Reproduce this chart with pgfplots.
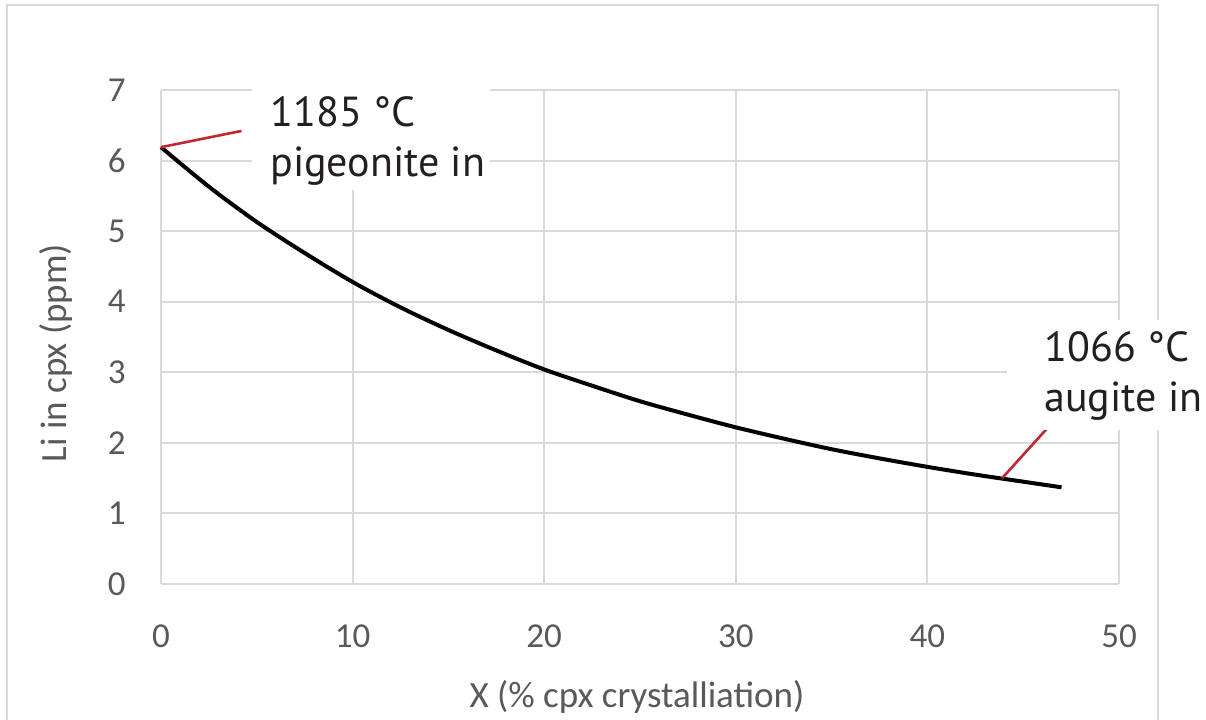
\documentclass[border=0pt]{standalone}
\usepackage{pgfplots}
\pgfplotsset{compat=1.18}
\usepackage{fontspec}
\setmainfont{Carlito}
\newfontfamily\annfont{PT Sans}
\definecolor{gridgray}{HTML}{D9D9D9}
\definecolor{framegray}{HTML}{D9D9D9}
\definecolor{labgray}{HTML}{595959}
\definecolor{anntext}{HTML}{231F20}
\definecolor{leader}{HTML}{C1272D}

\begin{document}
\begin{tikzpicture}
  \useasboundingbox (0,0) rectangle (603pt,359.5pt);
  % outer chart frame (bottom edge falls outside the picture)
  \draw[framegray, line width=0.8pt] (3.5pt,-3pt) -- (3.5pt,357pt) -- (579pt,357pt) -- (579pt,-3pt);
  \begin{axis}[at={(80.5pt,67.5pt)}, anchor=south west, scale only axis,
      width=479pt, height=247pt,
      xmin=0, xmax=50, ymin=0, ymax=7,
      xtick={0,10,...,50}, ytick={0,...,7},
      axis lines=left,
      x axis line style={draw=gridgray, line width=1.2pt, -},
      y axis line style={draw=none, -},
      major tick length=0pt,
      grid=major, major grid style={draw=gridgray, line width=1pt},
      /pgf/number format/assume math mode=true,
      tick label style={font=\fontsize{17.5}{20}\selectfont, text=labgray, inner sep=0pt},
      yticklabel style={xshift=-17.5pt},
      xticklabel style={yshift=-20pt},
      clip=false]
    \addplot[black, line width=2pt, smooth] coordinates {
      (0,6.19) (2.5,5.63) (5,5.13) (7.5,4.69) (10,4.28) (12.5,3.92)
      (15,3.60) (17.5,3.31) (20,3.04) (22.5,2.81) (25,2.59) (27.5,2.40)
      (30,2.22) (32.5,2.06) (35,1.91) (37.5,1.78) (40,1.66) (42.5,1.55)
      (45,1.45) (47,1.37)};
    \addplot[leader, line width=1.3pt] coordinates {(0,6.19) (4.2,6.42)};
    \addplot[leader, line width=1.3pt] coordinates {(43.9,1.50) (46.2,2.19)};
  \end{axis}
  % annotation boxes
  \fill[white] (126pt,264.5pt) rectangle (245pt,319.5pt);
  \fill[white] (503.5pt,144.5pt) rectangle (603pt,199.5pt);
  \node[anchor=base west, inner sep=0pt, text=anntext, font=\annfont\fontsize{21}{25}\selectfont, align=left]
    at (135pt,271pt) {1185 °C\\pigeonite in};
  \node[anchor=base west, inner sep=0pt, text=anntext, font=\annfont\fontsize{21}{25}\selectfont, align=left]
    at (522pt,153.5pt) {1066 °C\\augite in};
  % axis titles
  \node[rotate=90, text=labgray, font=\fontsize{18.5}{22}\selectfont] at (28pt,183pt) {Li in cpx (ppm)};
  \node[anchor=base, text=labgray, font=\fontsize{18.5}{22}\selectfont, inner sep=0pt] at (318.5pt,6pt) {X (\% cpx crystalliation)};
\end{tikzpicture}
\end{document}
